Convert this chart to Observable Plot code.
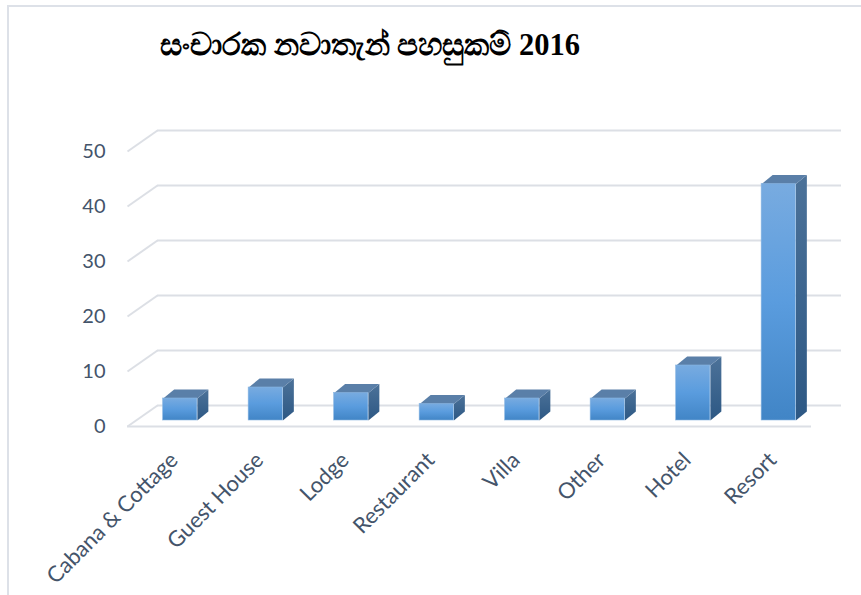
<!DOCTYPE html>
<html>
<head>
<meta charset="utf-8">
<script src="https://cdn.jsdelivr.net/npm/d3@7"></script>
<script src="https://cdn.jsdelivr.net/npm/@observablehq/plot@0.6"></script>
<style>
  html, body { margin: 0; padding: 0; background: #fff; }
  #wrap { position: relative; width: 861px; height: 595px; overflow: hidden; background: #fff; }
  #frame { position: absolute; left: 7px; top: 5px; width: 900px; height: 700px;
           border-left: 2px solid #dde1e8; border-top: 2px solid #dde1e8; }
  #title { position: absolute; left: 160px; top: 28px; font-family: "Liberation Serif", "Times New Roman", serif;
           font-weight: bold; font-size: 30.5px; color: #000; white-space: nowrap; }
  #chart { position: absolute; left: 0; top: 80px; }
</style>
</head>
<body>
<div id="wrap">
  <div id="frame"></div>
  <div id="title">සංචාරක නවාතැන් පහසුකම් 2016</div>
  <div id="chart"></div>
</div>
<script>
// ---- data ----
const categories = ["Cabana & Cottage", "Guest House", "Lodge", "Restaurant", "Villa", "Other", "Hotel", "Resort"];
const values = [4, 6, 5, 3, 4, 4, 10, 43];
const yTicks = [0, 10, 20, 30, 40, 50];

// ---- layout / style ----
const W = 861, H = 515;
const mL = 137, mR = 40, mT = 65, mB = 175;
const pxX = (W - mL - mR) / categories.length;  // px per category unit
const pxY = (H - mT - mB) / 50;                 // px per value unit
const half = 0.2;                               // half bar width (category units)
const depthX = 11 / pxX, depthY = 9 / pxY;      // bar depth in data units
const wallX = 20, wallY = 15, floorX = 10, floorY = 6; // px offsets of back wall / front floor
const textColor = "#44546a";
const gridColor = "#dcdfe5";

const bars = categories.map((c, i) => ({i, c, v: values[i]}));
const sideFaces = bars.flatMap(b => [
  {id: b.i, x: b.i + half, y: 0},
  {id: b.i, x: b.i + half, y: b.v},
  {id: b.i, x: b.i + half + depthX, y: b.v + depthY},
  {id: b.i, x: b.i + half + depthX, y: depthY}
]);
const topFaces = bars.flatMap(b => [
  {id: b.i, x: b.i - half, y: b.v},
  {id: b.i, x: b.i + half, y: b.v},
  {id: b.i, x: b.i + half + depthX, y: b.v + depthY},
  {id: b.i, x: b.i - half + depthX, y: b.v + depthY}
]);
const diag = yTicks.map(t => ({
  x1: -0.5 - floorX / pxX, y1: t - floorY / pxY,
  x2: -0.5 + wallX / pxX, y2: t + wallY / pxY
}));

const svg = Plot.plot({
  width: W, height: H,
  marginLeft: mL, marginRight: mR, marginTop: mT, marginBottom: mB,
  x: {type: "linear", domain: [-0.5, categories.length - 0.5], axis: null},
  y: {domain: [0, 50], axis: null},
  style: {fontFamily: "Lato, 'Open Sans', sans-serif", fontSize: "20px", color: textColor, background: "transparent", overflow: "visible"},
  marks: [
    Plot.ruleY(yTicks, {y: d => d, x1: () => -0.5, x2: () => categories.length - 0.5, dx: wallX, dy: -wallY, stroke: gridColor, strokeWidth: 2}),
    Plot.link(diag, {x1: "x1", y1: "y1", x2: "x2", y2: "y2", stroke: gridColor, strokeWidth: 2}),
    Plot.ruleY([0], {y: d => d, x1: () => -0.5, x2: () => categories.length - 0.5, dx: -floorX, dy: floorY, stroke: gridColor, strokeWidth: 2}),
    Plot.text(yTicks, {x: () => -0.5, y: d => d, text: d => String(d), dx: -32, dy: floorY, textAnchor: "end", fill: textColor}),
    Plot.line(sideFaces, {x: "x", y: "y", z: "id", fill: "url(#gSide)", stroke: "none"}),
    Plot.line(topFaces, {x: "x", y: "y", z: "id", fill: "#5a7fa8", stroke: "none"}),
    Plot.rect(bars, {x1: d => d.i - half, x2: d => d.i + half, y1: () => 0, y2: "v", fill: "url(#gFront)", stroke: "#8bb6e2", strokeWidth: 0.6}),
    Plot.text(bars, {x: "i", y: () => 0, text: "c", rotate: -45, textAnchor: "end", dx: -6, dy: 36, fontSize: 22, fill: textColor})
  ]
});

const defs = d3.select(svg).insert("defs", ":first-child");
const gf = defs.append("linearGradient").attr("id", "gFront").attr("x1", 0).attr("y1", 0).attr("x2", 0).attr("y2", 1);
gf.append("stop").attr("offset", "0%").attr("stop-color", "#78abe0");
gf.append("stop").attr("offset", "50%").attr("stop-color", "#5a9cde");
gf.append("stop").attr("offset", "100%").attr("stop-color", "#4185c6");
const gs = defs.append("linearGradient").attr("id", "gSide").attr("x1", 0).attr("y1", 0).attr("x2", 0).attr("y2", 1);
gs.append("stop").attr("offset", "0%").attr("stop-color", "#4c7299");
gs.append("stop").attr("offset", "100%").attr("stop-color", "#2d5884");

document.getElementById("chart").appendChild(svg);
</script>
</body>
</html>
